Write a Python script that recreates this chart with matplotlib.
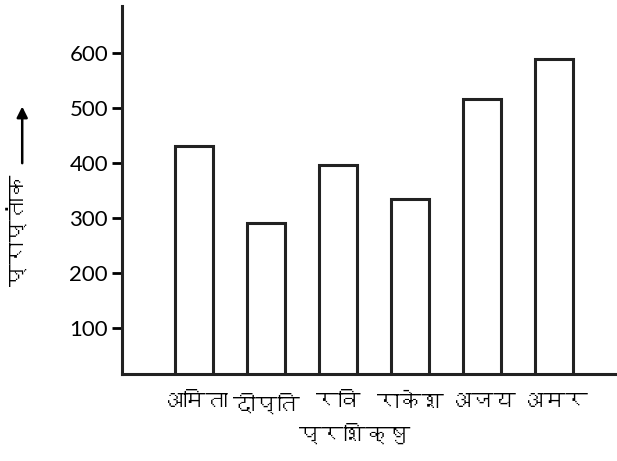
import matplotlib
matplotlib.use("Agg")
import matplotlib.pyplot as plt
from matplotlib import font_manager
from matplotlib.ft2font import FT2Font

# आँकड़े
prashikshu = ['अमिता', 'दीप्ति', 'रवि', 'राकेश', 'अजय', 'अमर']
praptank = [430, 291, 396, 335, 516, 589]
y_ticks = [100, 200, 300, 400, 500, 600]

# देवनागरी वाला फ़ॉन्ट ढूँढें
deva = None
for f in font_manager.fontManager.ttflist:
    try:
        if 0x0905 in FT2Font(f.fname).get_charmap():
            deva = f.name
            break
    except Exception:
        pass
fams = ([deva] if deva else []) + ['DejaVu Sans']
plt.rcParams['font.family'] = fams

fig = plt.figure(figsize=(6.17, 4.61), dpi=100)
ax = fig.add_axes([0.1977, 0.1887, 0.8023, 0.7983])

x = range(len(prashikshu))
ax.bar(x, praptank, width=0.53, bottom=0, fill=False,
       edgecolor='#222222', linewidth=2.2)

ax.set_xlim(-1.0, 5.875)
ax.set_ylim(16.5, 685)
ax.set_yticks(y_ticks)
ax.set_yticklabels([str(v) for v in y_ticks], fontsize=16, family=['Lato', 'DejaVu Sans'])
ax.set_xticks(list(x))
ax.set_xticklabels(prashikshu, fontsize=16)
ax.tick_params(axis='y', length=7, width=2, pad=3)
ax.tick_params(axis='x', length=0, pad=14)

for s in ['top', 'right']:
    ax.spines[s].set_visible(False)
for s in ['left', 'bottom']:
    ax.spines[s].set_linewidth(2.2)
    ax.spines[s].set_color('#222222')

ax.set_xlabel('प्रशिक्षु', fontsize=16, labelpad=6, x=0.47)

fig.text(0.03, 0.50, 'प्राप्तांक', rotation=90, fontsize=16,
         ha='center', va='center')
ax.annotate('', xy=(0.036, 0.775), xytext=(0.036, 0.64),
            xycoords='figure fraction',
            arrowprops=dict(arrowstyle='-|>', color='black', lw=1.8,
                            mutation_scale=16))

fig.savefig('out.png', dpi=100)
